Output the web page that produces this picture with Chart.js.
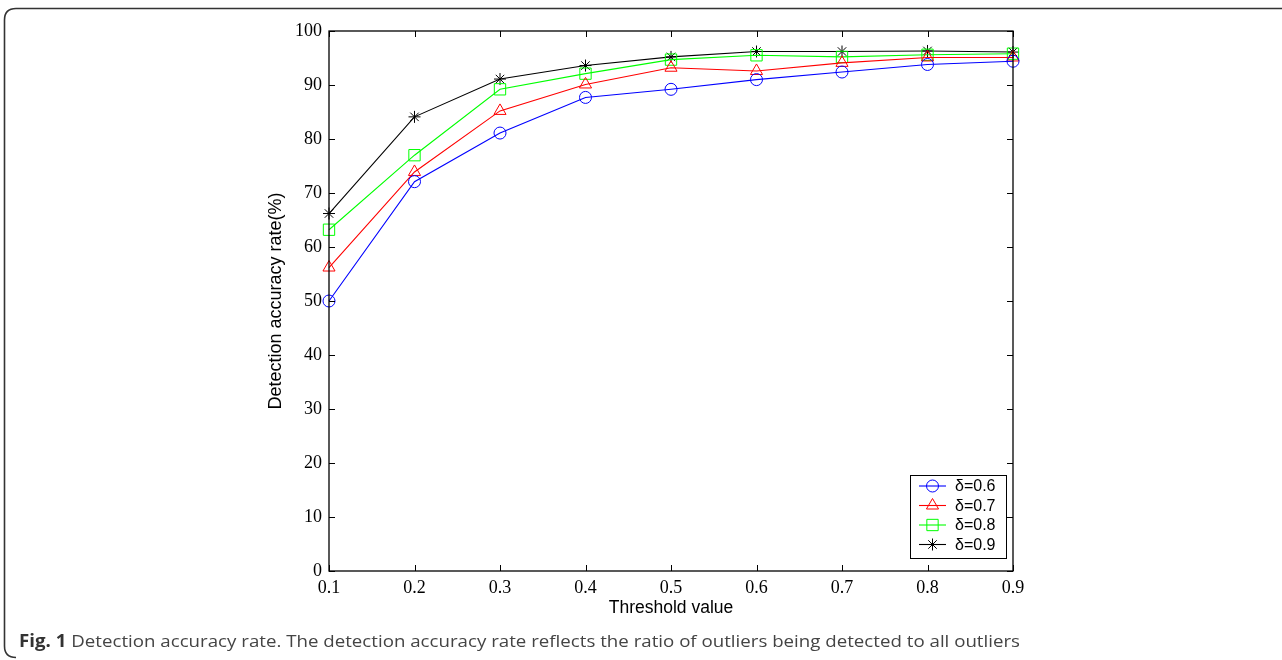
<!DOCTYPE html>
<html>
<head>
<meta charset="utf-8">
<script src="https://cdn.jsdelivr.net/npm/chart.js@4/dist/chart.umd.min.js"></script>
<style>
  html, body { margin: 0; padding: 0; background: #fff; }
  #wrap { position: relative; width: 1282px; height: 660px; overflow: hidden; }
  #c { position: absolute; left: 0; top: 0; }
  #frame { position: absolute; left: 0; top: 0; }
  #caption { position: absolute; left: 19px; top: 629px; white-space: nowrap;
    font-family: "Open Sans", "Noto Sans", sans-serif; font-size: 17px; color: #444;
    transform-origin: 0 0; }
  #caption b { color: #333; }
</style>
</head>
<body>
<div id="wrap">
  <canvas id="c" width="1282" height="660"></canvas>
  <svg id="frame" width="1282" height="660">
    <path d="M1282 8.5 L16 8.5 Q4.5 8.5 4.5 20 L4.5 646 Q4.5 657.5 16 657.5" fill="none" stroke="#333" stroke-width="1.6"/>
  </svg>
  <div id="caption"><b>Fig. 1</b> Detection accuracy rate. The detection accuracy rate reflects the ratio of outliers being detected to all outliers</div>
</div>
<script>
const thresholds = ['0.1', '0.2', '0.3', '0.4', '0.5', '0.6', '0.7', '0.8', '0.9'];
const yTicks = [0, 10, 20, 30, 40, 50, 60, 70, 80, 90, 100];
const seriesNames = ['δ=0.6', 'δ=0.7', 'δ=0.8', 'δ=0.9'];
const delta06 = [50.0, 72.1, 81.1, 87.7, 89.2, 91.0, 92.4, 93.8, 94.4];
const delta07 = [56.2, 73.9, 85.2, 90.1, 93.2, 92.6, 94.1, 95.1, 95.1];
const delta08 = [63.2, 77.0, 89.2, 92.1, 94.7, 95.5, 95.2, 95.6, 95.8];
const delta09 = [66.2, 84.1, 91.1, 93.6, 95.2, 96.2, 96.2, 96.3, 96.1];

// fit caption width
(function () {
  const cap = document.getElementById('caption');
  const w = cap.getBoundingClientRect().width;
  const target = 1001;
  cap.style.transform = 'scaleX(' + (target / w) + ')';
})();

const styles = [
  { color: '#0000ff', pointStyle: 'circle', radius: 6 },
  { color: '#ff0000', pointStyle: 'triangle', radius: 7 },
  { color: '#00ff00', pointStyle: 'rect', radius: 8 },
  { color: '#000000', pointStyle: 'star', radius: 6 }
];
const values = [delta06, delta07, delta08, delta09];

const datasets = values.map((v, i) => ({
  label: seriesNames[i],
  data: v,
  borderColor: styles[i].color,
  backgroundColor: 'rgba(0,0,0,0)',
  pointBorderColor: styles[i].color,
  pointBackgroundColor: 'rgba(0,0,0,0)',
  pointStyle: styles[i].pointStyle,
  pointRadius: styles[i].radius,
  pointBorderWidth: 1,
  borderWidth: 1.1,
  tension: 0,
  clip: false
}));

const frameTicks = {
  id: 'frameTicks',
  afterDatasetsDraw(chart) {
    const { ctx, chartArea: a, scales } = chart;
    ctx.save();
    ctx.strokeStyle = '#000';
    ctx.lineWidth = 1.3;
    ctx.strokeRect(a.left, a.top, a.right - a.left, a.bottom - a.top);
    ctx.lineWidth = 1;
    const L = 6;
    ctx.beginPath();
    scales.x.ticks.forEach((t, i) => {
      const px = Math.round(scales.x.getPixelForTick(i)) + 0.5;
      ctx.moveTo(px, a.bottom); ctx.lineTo(px, a.bottom - L);
      ctx.moveTo(px, a.top); ctx.lineTo(px, a.top + L);
    });
    scales.y.ticks.forEach((t, i) => {
      const py = Math.round(scales.y.getPixelForTick(i)) + 0.5;
      ctx.moveTo(a.left, py); ctx.lineTo(a.left + L, py);
      ctx.moveTo(a.right, py); ctx.lineTo(a.right - L, py);
    });
    ctx.stroke();

    // legend (inset, MATLAB style)
    const bx = 910.5, by = 475.5, bw = 96, bh = 83;
    ctx.fillStyle = '#fff';
    ctx.fillRect(bx, by, bw, bh);
    ctx.strokeStyle = '#000';
    ctx.lineWidth = 1;
    ctx.strokeRect(bx, by, bw, bh);
    const rows = [486, 505.5, 525, 544.5];
    chart.data.datasets.forEach((ds, i) => {
      const y = rows[i];
      ctx.strokeStyle = ds.borderColor;
      ctx.lineWidth = 1.1;
      ctx.beginPath();
      ctx.moveTo(919, y); ctx.lineTo(946, y);
      ctx.stroke();
      ctx.fillStyle = 'rgba(0,0,0,0)';
      ctx.strokeStyle = ds.borderColor;
      ctx.lineWidth = 1;
      Chart.helpers.drawPoint(ctx, {
        pointStyle: ds.pointStyle, radius: ds.pointRadius, borderWidth: 1, rotation: 0
      }, 932.5, y);
      ctx.fillStyle = '#000';
      ctx.font = '16px "Liberation Sans", Arial, sans-serif';
      ctx.textBaseline = 'middle';
      ctx.textAlign = 'left';
      ctx.fillText(ds.label, 955, y + 1);
    });
    ctx.restore();
  }
};

new Chart(document.getElementById('c'), {
  type: 'line',
  data: { labels: thresholds, datasets },
  options: {
    responsive: false,
    animation: false,
    events: [],
    layout: { padding: { left: 250, right: 269, top: 31, bottom: 20 } },
    plugins: { legend: { display: false }, tooltip: { enabled: false } },
    scales: {
      x: {
        type: 'category',
        offset: false,
        grid: { display: false, drawTicks: false },
        border: { display: false },
        ticks: {
          color: '#000', padding: 6, autoSkip: false, maxRotation: 0,
          font: { family: '"Liberation Serif", "Times New Roman", serif', size: 18 }
        },
        title: {
          display: true, text: 'Threshold value', color: '#000',
          font: { family: '"Liberation Sans", Arial, sans-serif', size: 17.5 },
          padding: { top: 21, bottom: 21 }
        },
        afterFit(s) { s.height = 69; }
      },
      y: {
        type: 'linear', min: 0, max: 100,
        grid: { display: false, drawTicks: false },
        border: { display: false },
        afterBuildTicks(s) { s.ticks = yTicks.map(v => ({ value: v })); },
        ticks: {
          color: '#000', padding: 7,
          font: { family: '"Liberation Serif", "Times New Roman", serif', size: 18 }
        },
        title: {
          display: true, text: 'Detection accuracy rate(%)', color: '#000',
          font: { family: '"Liberation Sans", Arial, sans-serif', size: 18 },
          padding: { top: 15.2, bottom: 15.2 }
        },
        afterFit(s) { s.width = 79; }
      }
    }
  },
  plugins: [frameTicks]
});
</script>
</body>
</html>
